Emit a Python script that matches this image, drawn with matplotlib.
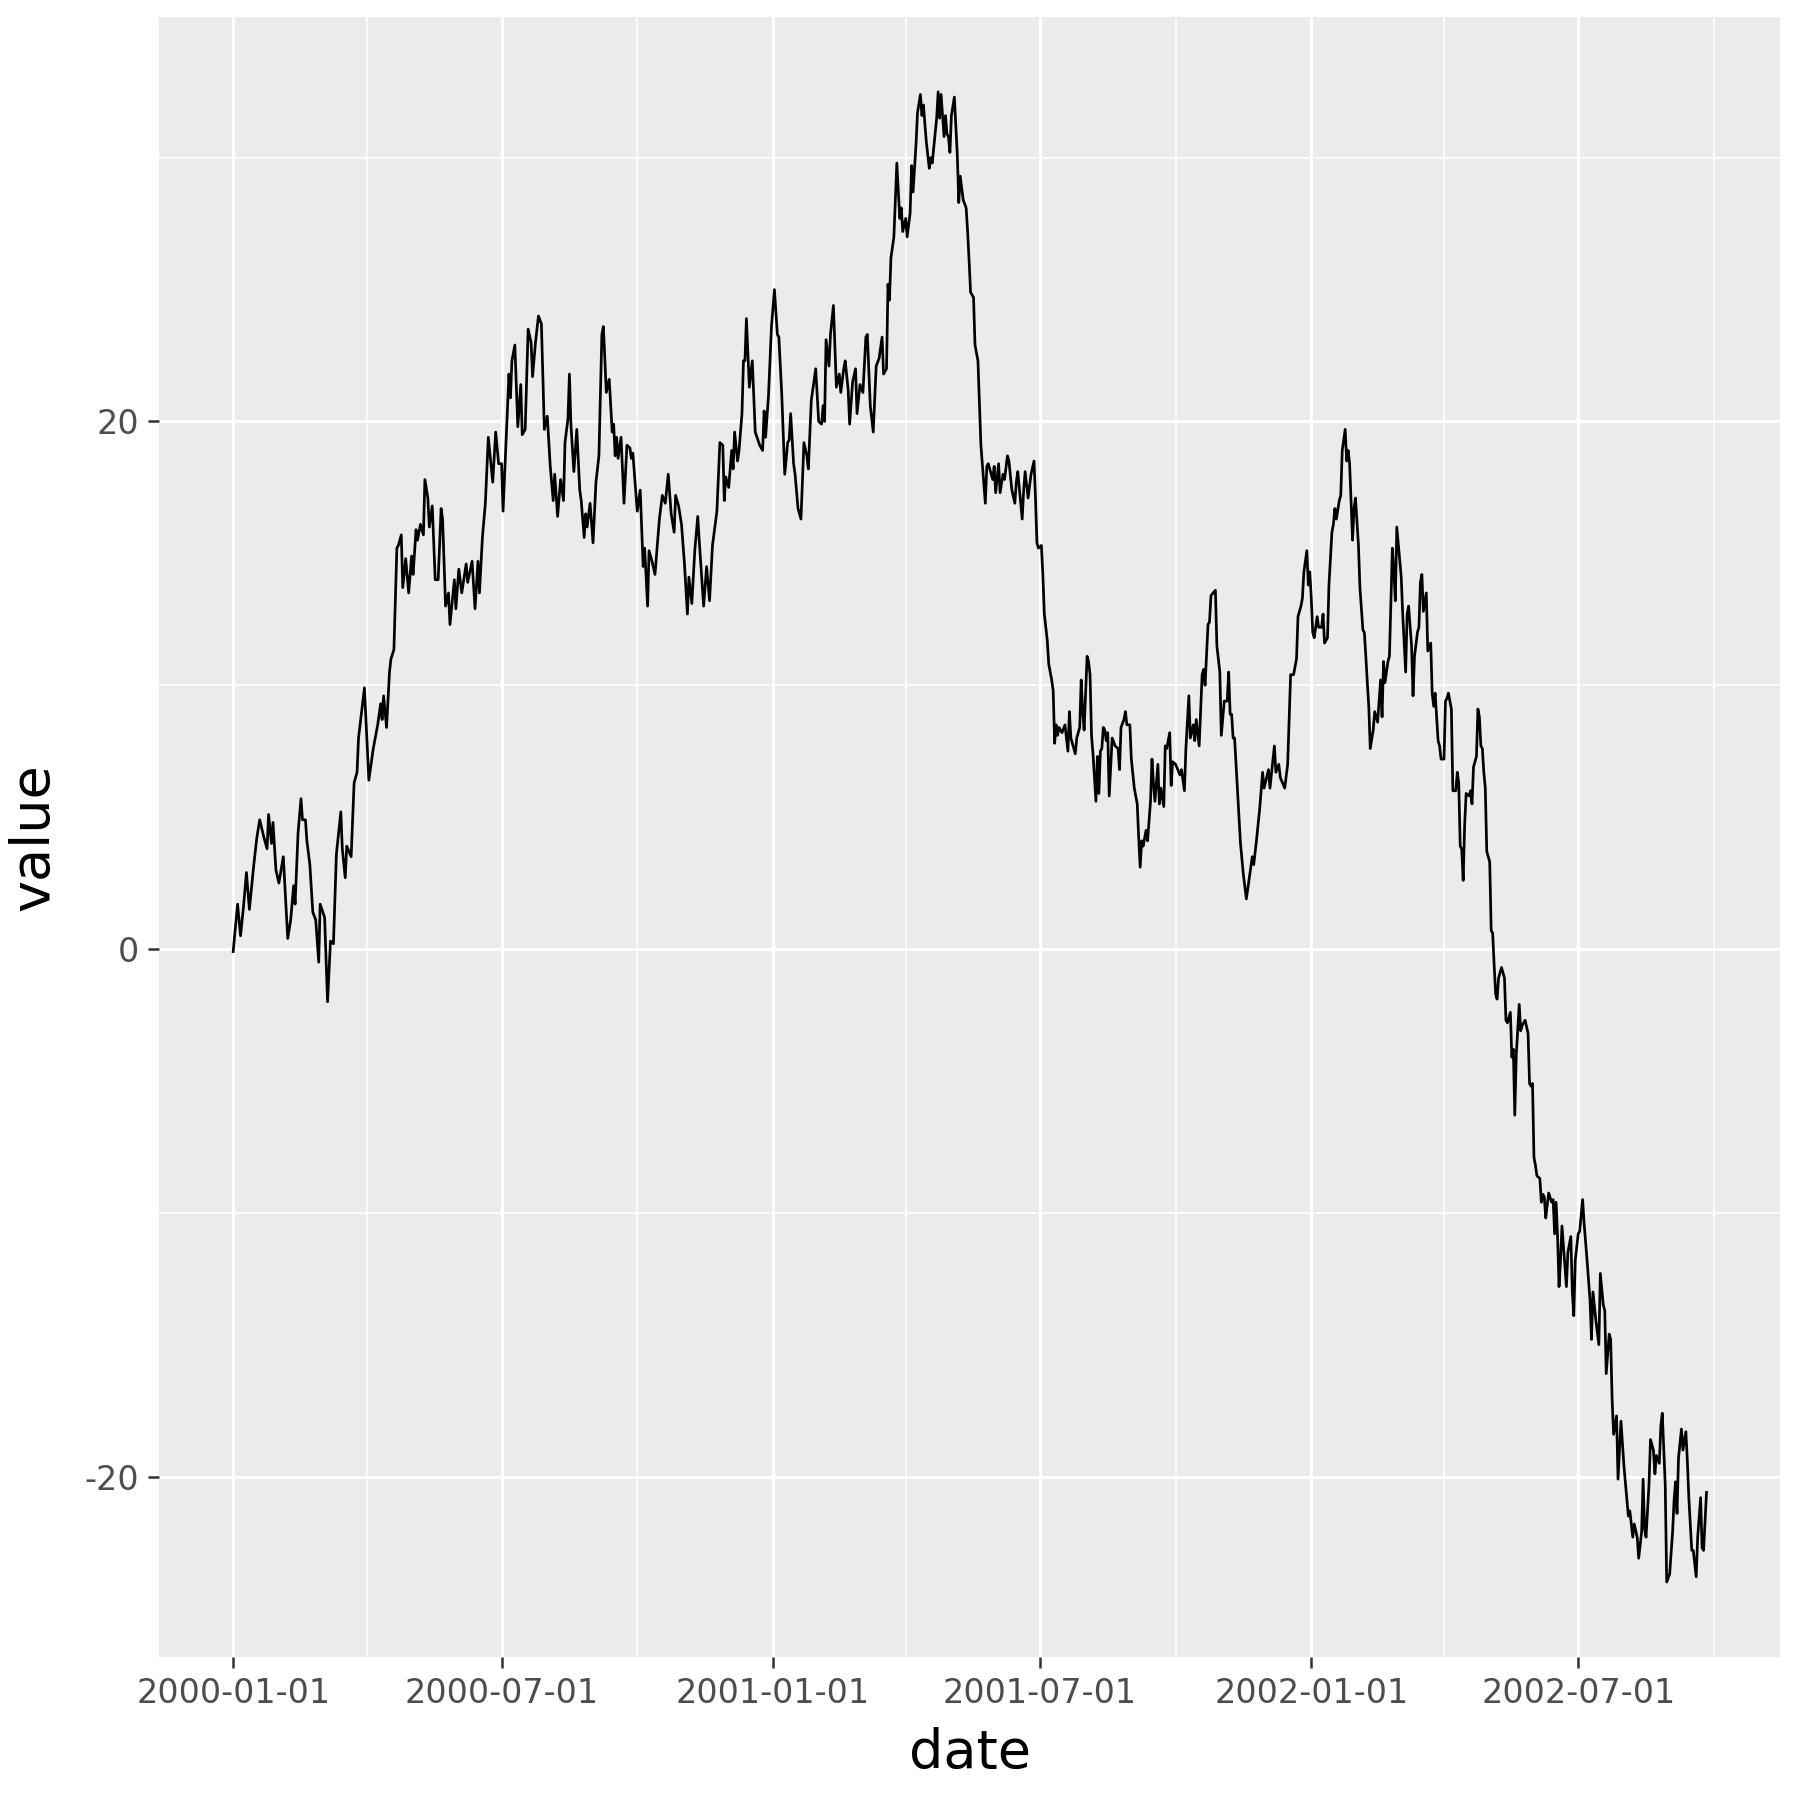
import numpy as np
import matplotlib
matplotlib.use("Agg")
import matplotlib.pyplot as plt
import matplotlib.dates as mdates

# days since 2000-01-01 and the value on that day
day = [0, 3, 5, 7, 9, 11, 14, 16, 18, 21, 23, 24, 26, 27, 29, 31, 34, 37, 39, 41,
       42, 44, 46, 47, 49, 50, 52, 54, 56, 58, 59, 62, 64, 66, 68, 70, 73, 74, 76, 77,
       80, 82, 84, 85, 89, 92, 94, 95, 98, 100, 101, 102, 104, 106, 107,
       109, 111, 112, 114, 115, 117, 119, 121, 122, 124, 125, 127, 129, 130, 132, 133, 135,
       137, 139, 141, 142, 144, 146, 147, 150, 151, 153, 155, 158, 159, 162, 164, 166, 167,
       169, 171, 173, 176, 178, 180, 182, 183, 185, 187, 188, 189, 191, 193, 195, 196, 198,
       200, 202, 203, 205, 207, 209, 211, 213, 215, 217, 218, 220, 222,
       224, 225, 227, 228, 229, 231, 233, 235, 236, 238, 239, 240, 242, 244, 246, 248, 250,
       251, 252, 253, 255, 257, 258, 259, 260, 261, 263, 265, 267, 269, 270, 271, 274, 276,
       278, 279, 281, 282, 284, 286, 289, 291, 293, 295, 297, 299, 300, 302, 304, 306, 308,
       309, 311, 313, 315, 316, 319, 321, 323, 325, 328, 330, 332, 333, 334, 336, 338,
       339, 340, 342, 343, 345, 346, 347, 348, 350, 352, 354, 357, 359, 360, 361, 363, 365,
       367, 369, 370, 372, 374, 376, 377, 378, 380, 381, 383, 385, 386, 387, 389, 390, 392,
       395, 397, 399, 400, 401, 402, 404, 405, 407, 409, 411, 412, 414, 415, 417, 418, 420,
       422, 423, 425, 427, 429, 430, 432, 434, 436, 438, 440, 441, 443, 444, 445, 446, 448, 450,
       452, 453, 454, 456, 457, 459, 460, 461, 463, 464, 466, 467, 468, 470, 472, 473, 474,
       477, 478, 479, 480, 482, 483, 484, 485, 486, 487, 489, 491, 492, 493, 495, 497, 498,
       499, 500, 502, 503, 505, 506, 507, 509, 510, 511, 512, 513, 515, 516, 517, 519, 520,
       522, 523, 525, 526, 528, 530, 531, 532, 535, 536, 537, 539, 541, 543, 544, 545, 546,
       548, 549, 550, 552, 553, 555, 556, 557, 558, 559, 560, 562, 564, 566, 567, 568, 571,
       572, 574, 575, 576, 577, 579, 580, 581, 582, 583, 585, 586, 587, 588, 589, 590, 591,
       592, 593, 594, 596, 598, 600, 601, 602, 604, 605, 606, 608, 609, 611, 613, 614, 615,
       616, 617, 619, 620, 622, 623, 624, 625, 627, 628, 629, 631, 632, 633, 635, 636, 637,
       639, 642, 643, 645, 646, 648, 649, 651, 652, 653, 655, 657, 658, 659, 661, 662, 663,
       666, 667, 669, 670, 672, 674, 675, 676, 677, 678, 679, 681, 683, 685, 687, 689, 691,
       692, 694, 696, 698, 699, 702, 703, 706, 707, 709, 710, 713, 715, 717, 719, 721, 722,
       724, 725, 726, 728, 729, 730, 731, 732, 733, 735, 736, 738, 739, 740, 742, 743, 745,
       746, 747, 748, 750, 751, 752, 754, 755, 756, 757, 759, 760, 761, 763, 764, 766, 767,
       768, 769, 770, 771, 773, 774, 776, 778, 779, 780, 781, 783, 784, 786, 787, 788, 789,
       792, 793, 795, 796, 797, 799, 800, 801, 803, 804, 805, 806, 807, 809, 810, 812, 813,
       814, 815, 817, 818, 819, 821, 822, 823, 824, 826, 827, 829, 830, 831, 832, 833, 834,
       835, 836, 838, 839, 840, 841, 843, 844, 845, 846, 847, 848, 849, 850, 852, 853, 854,
       855, 856, 857, 858, 860, 862, 863, 864, 866, 867, 868, 869, 870, 872, 873, 874, 876,
       878, 879, 880, 881, 882, 883, 884, 886, 887, 888, 889, 890, 891, 892, 894, 895, 896,
       897, 898, 899, 900, 901, 903, 904, 905, 907, 908, 909, 910, 912, 913, 915, 916, 918,
       920, 921, 922, 924, 926, 927, 929, 930, 931, 933, 934, 935, 936, 938, 939, 941, 943,
       946, 947, 949, 950, 952, 953, 955, 956, 957, 958, 960, 961, 963, 964, 965, 967, 968,
       969, 971, 972, 974, 976, 977, 978, 979, 980, 982, 983, 985, 986, 987, 989, 990, 992,
       993, 995, 996, 997, 999]

value = [-0.1, 1.7, 0.5, 1.6, 2.9, 1.5, 3.2, 4.2, 4.9, 4.2, 3.8, 5.1, 4.0, 4.8, 3.0, 2.5, 3.5, 0.4, 1.1, 2.4,
         1.7, 4.4, 5.7, 4.9, 4.9, 4.1, 3.2, 1.4, 1.1, -0.5, 1.7, 1.2, -2.0, 0.3, 0.2, 3.6, 5.2, 3.8, 2.7, 3.9,
         3.5, 6.3, 6.7, 8.0, 9.9, 6.4, 7.2, 7.6, 8.5, 9.3, 8.7, 9.6, 8.4, 10.5, 11.0,
         11.35, 15.2, 15.3, 15.7, 13.7, 14.8, 13.5, 14.9, 14.2, 15.9, 15.5, 16.1, 15.7, 17.8, 17.1, 16.0, 16.8,
         14.0, 14.0, 16.7, 16.3, 13.0, 13.5, 12.3, 14.0, 12.9, 14.4, 13.5, 14.6, 13.9, 14.7, 12.9, 14.7, 13.5,
         15.6, 16.9, 19.4, 17.7, 19.6, 18.4, 18.4, 16.6, 19.2, 21.8, 20.9, 22.3, 22.9, 19.8, 21.4, 19.5, 19.7,
         23.5, 23.0, 21.7, 23.0, 24.0, 23.7, 19.7, 20.2, 18.3, 17.0, 18.0, 16.4, 17.8,
         17.0, 19.2, 20.1, 21.8, 19.9, 18.1, 19.7, 17.4, 17.0, 15.6, 16.5, 16.0, 16.9, 15.4, 17.7, 18.7, 23.3,
         23.6, 22.4, 21.1, 21.6, 19.6, 19.9, 18.7, 19.4, 18.6, 19.4, 16.9, 19.1, 19.0, 18.6, 18.8, 16.6, 17.4,
         14.5, 15.2, 13.0, 15.1, 14.7, 14.2, 16.3, 17.2, 16.9, 18.0, 16.5, 15.8, 17.2, 16.8, 16.1, 14.6, 12.7,
         14.1, 13.1, 15.1, 16.4, 15.5, 13.0, 14.5, 13.2, 15.3, 16.6, 19.2, 19.1, 17.0, 17.9, 17.5, 18.9,
         18.2, 19.6, 18.5, 18.9, 20.3, 22.3, 22.3, 23.9, 21.3, 22.3, 19.6, 19.1, 18.9, 20.4, 19.4, 21.0, 23.6,
         25.0, 23.3, 23.2, 21.0, 18.0, 19.2, 19.3, 20.3, 18.4, 18.0, 16.7, 16.3, 17.7, 19.2, 18.7, 18.2, 20.8,
         22.0, 20.0, 19.9, 20.6, 20.0, 23.1, 22.1, 23.3, 24.4, 21.3, 21.8, 21.1, 22.0, 22.3, 21.2, 19.9, 21.5,
         22.0, 20.3, 21.4, 21.1, 23.2, 23.3, 20.6, 19.6, 22.1, 22.4, 23.2, 21.8, 22.0, 25.2, 24.6, 26.2, 27.0, 29.8,
         27.7, 28.1, 27.2, 27.7, 27.0, 27.9, 29.7, 28.7, 30.5, 31.7, 32.4, 31.6, 32.0, 30.6, 29.6, 30.0, 29.8,
         31.5, 32.5, 31.5, 32.4, 30.8, 31.6, 30.9, 30.8, 30.2, 31.6, 32.3, 30.1, 28.3, 29.3, 28.4, 28.1, 27.2,
         26.1, 24.9, 24.7, 22.9, 22.3, 20.7, 19.1, 17.6, 16.9, 18.3, 18.4, 18.2, 17.8, 18.3, 17.3, 18.4, 17.3,
         18.0, 17.8, 18.7, 18.5, 17.4, 16.9, 17.7, 18.1, 16.3, 17.4, 18.1, 17.1, 18.0, 18.5, 17.1, 15.4, 15.2,
         15.3, 14.2, 12.7, 11.7, 10.8, 10.2, 9.8, 7.8, 8.5, 8.1, 8.4, 8.2, 8.5, 7.5, 9.0, 8.0, 7.4,
         8.0, 8.4, 10.2, 9.0, 8.3, 11.1, 10.9, 10.4, 8.1, 7.4, 5.6, 7.3, 5.9, 7.5, 7.6, 8.4, 8.3,
         7.9, 8.2, 5.8, 8.0, 7.7, 7.6, 6.8, 8.4, 8.7, 9.0, 8.5, 8.5, 7.2, 6.1, 5.5, 4.2, 3.1,
         4.1, 3.9, 4.5, 4.1, 5.6, 7.2, 6.3, 5.6, 7.0, 5.5, 6.1, 5.4, 7.7, 7.6, 8.2, 6.2, 7.1,
         7.0, 6.6, 6.8, 6.0, 7.6, 9.6, 8.0, 8.5, 7.9, 8.7, 7.7, 10.4, 10.6, 10.0, 12.3, 12.4, 13.4,
         13.6, 11.5, 10.5, 8.1, 9.4, 9.4, 10.5, 8.9, 8.9, 8.0, 8.0, 6.0, 4.0, 2.8, 1.9, 2.7, 3.5,
         3.2, 4.2, 5.3, 6.7, 6.1, 6.8, 6.1, 7.7, 6.7, 7.0, 6.5, 6.1, 7.0, 10.4, 10.4, 11.0, 12.6,
         13.0, 13.3, 14.3, 15.1, 13.8, 14.3, 13.3, 12.0, 11.8, 12.6, 12.2, 12.2, 12.7, 11.6, 11.8, 13.8, 15.8,
         16.1, 16.7, 16.3, 17.0, 17.2, 18.9, 19.7, 18.5, 18.9, 18.4, 15.5, 16.7, 17.1, 15.3, 13.7, 12.1, 12.0,
         11.1, 10.1, 9.2, 7.6, 8.3, 9.0, 8.6, 10.2, 8.8, 10.9, 10.1, 10.9, 11.1, 15.2, 14.3, 13.2, 16.0,
         14.1, 12.7, 10.5, 12.7, 13.0, 11.5, 9.6, 11.1, 12.0, 12.2, 13.9, 14.2, 12.8, 13.5, 11.3, 11.6, 9.7,
         9.2, 9.7, 7.9, 7.7, 7.2, 7.2, 9.4, 9.5, 9.7, 9.1, 6.0, 6.0, 6.7, 6.3, 3.9, 3.8, 2.6,
         4.7, 5.9, 5.8, 6.0, 5.5, 6.9, 7.3, 9.1, 8.8, 7.7, 7.6, 6.7, 6.1, 3.7, 3.3, 0.7, 0.6,
         -0.6, -1.7, -1.9, -1.1, -0.7, -1.1, -2.7, -2.8, -2.4, -4.1, -3.8, -6.3, -4.0, -2.1, -3.1, -2.9, -2.7,
         -3.2, -5.1, -5.2, -5.1, -7.9, -8.2, -8.6, -8.7, -9.6, -9.3, -9.4, -10.2, -9.7, -9.25, -9.6, -9.5, -10.8,
         -9.6, -10.9, -12.8, -11.8, -10.5, -12.0, -12.8, -11.5, -10.9, -13.0, -13.9, -11.8, -10.8, -10.7, -9.5, -10.4, -11.8,
         -13.3, -14.8, -13.0, -14.1, -15.0, -12.3, -13.5, -13.7, -16.1, -14.6, -14.8, -17.1, -18.4, -17.7, -20.1, -17.9, -19.6,
         -21.5, -21.3, -22.3, -21.8, -22.3, -23.1, -22.1, -20.1, -22.0, -22.3, -20.3, -18.6, -19.0, -19.9, -19.2, -19.5, -18.1,
         -17.6, -20.3, -24.0, -23.7, -22.1, -20.9, -20.2, -21.4, -19.3, -18.2, -19.0, -18.3, -19.4, -20.8, -22.8, -22.8, -23.8,
         -22.3, -20.8, -22.7, -22.8, -20.6]

start = np.datetime64("2000-01-01")
dates = start + np.array(day, dtype="timedelta64[D]")
value = np.array(value)

plt.rcParams["font.family"] = "DejaVu Sans"
plt.rcParams["axes.unicode_minus"] = False

fig = plt.figure(figsize=(6, 6), dpi=300, facecolor="white")
ax = fig.add_axes([0.0886, 0.0797, 0.9004, 0.9107])
ax.set_facecolor("#EBEBEB")

ax.plot(dates, value, color="black", lw=0.65, zorder=3)

# ggplot style 5% expansion
span = day[-1] - day[0]
ax.set_xlim(start + np.timedelta64(int(round(-0.05 * span * 24)), "h"),
            start + np.timedelta64(int(round((day[-1] + 0.05 * span) * 24)), "h"))
lo, hi = value.min(), value.max()
pad = 0.05 * (hi - lo)
ax.set_ylim(lo - pad, hi + pad)

ax.xaxis.set_major_locator(mdates.MonthLocator(bymonth=[1, 7]))
ax.xaxis.set_minor_locator(mdates.MonthLocator(bymonth=[4, 10]))
ax.xaxis.set_major_formatter(mdates.DateFormatter("%Y-%m-%d"))
ax.set_yticks([-20, 0, 20])
ax.set_yticks([-10, 10, 30], minor=True)

ax.grid(which="major", color="white", lw=0.75)
ax.grid(which="minor", color="white", lw=0.38)
ax.set_axisbelow(True)
for s in ax.spines.values():
    s.set_visible(False)

ax.tick_params(which="major", length=2.75, width=0.6, color="#333333",
               labelsize=8, labelcolor="#4D4D4D", pad=2.2)
ax.tick_params(which="minor", length=0)

ax.set_xlabel("date", fontsize=13, labelpad=4)
ax.set_ylabel("value", fontsize=13, labelpad=6)

fig.savefig("out.png", dpi=300, facecolor="white")
